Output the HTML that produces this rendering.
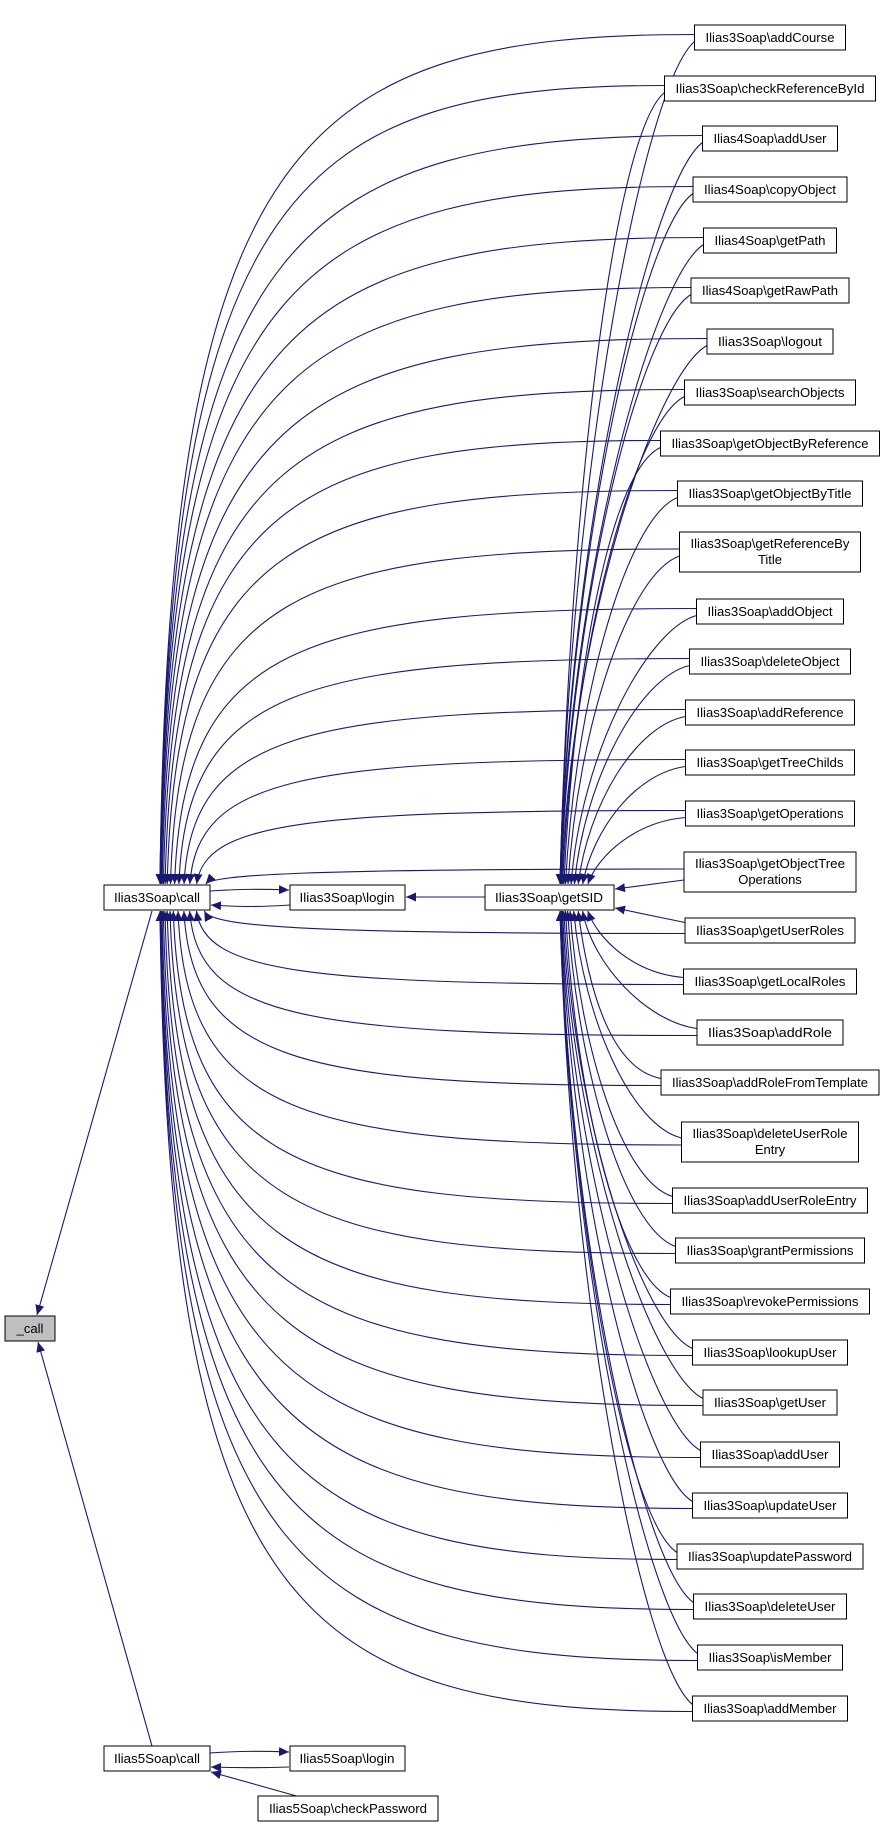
<!DOCTYPE html>
<html><head><meta charset="utf-8">
<style>
html,body{margin:0;padding:0;background:#fff;}
svg{display:block;}
text{font-family:"Liberation Sans",Arial,sans-serif;font-size:13px;fill:#000;}
</style></head>
<body>
<svg id="s" width="885" height="1828" viewBox="0 0 885 1828" xmlns="http://www.w3.org/2000/svg">
<defs>
<marker id="a" markerUnits="userSpaceOnUse" markerWidth="11" markerHeight="9" refX="10" refY="4.5" orient="auto">
<path d="M0,0 L10,4.5 L0,9 z" fill="#191970"/>
</marker>
</defs>
<g id="edges" fill="none" stroke="#191970" stroke-width="1.1"></g>
<g id="fixed" fill="none" stroke="#191970" stroke-width="1.1">
<path d="M210,891 C240,889 260,889 289,890" marker-end="url(#a)"/>
<path d="M290,905 C260,907 240,907 211,905" marker-end="url(#a)"/>
<path d="M485,897 L406,897" marker-end="url(#a)"/>
<path d="M152,911 L37,1315" marker-end="url(#a)"/>
<path d="M152,1746 L38,1342" marker-end="url(#a)"/>
<path d="M209,1753 C240,1751 260,1751 289,1752" marker-end="url(#a)"/>
<path d="M289,1767 C260,1768 240,1768 211,1767" marker-end="url(#a)"/>
<path d="M300,1797 L211,1772" marker-end="url(#a)"/>
</g>
<g stroke="#000" stroke-width="1" fill="#fff">
<rect x="104" y="885" width="106" height="25"/>
<rect x="290" y="885" width="115" height="25"/>
<rect x="485" y="885" width="129" height="25"/>
<rect x="5" y="1316" width="50" height="25" fill="#bfbfbf"/>
<rect x="104" y="1746" width="106" height="25"/>
<rect x="290" y="1746" width="115" height="25"/>
<rect x="258" y="1796" width="180" height="25"/>
</g>
<g text-anchor="middle">
<text x="157" y="902" textLength="86" lengthAdjust="spacingAndGlyphs">Ilias3Soap\call</text>
<text x="347" y="902" textLength="95" lengthAdjust="spacingAndGlyphs">Ilias3Soap\login</text>
<text x="549" y="902" textLength="108" lengthAdjust="spacingAndGlyphs">Ilias3Soap\getSID</text>
<text x="30" y="1333">_call</text>
<text x="157" y="1763" textLength="86" lengthAdjust="spacingAndGlyphs">Ilias5Soap\call</text>
<text x="347" y="1763" textLength="95" lengthAdjust="spacingAndGlyphs">Ilias5Soap\login</text>
<text x="348" y="1813" textLength="158" lengthAdjust="spacingAndGlyphs">Ilias5Soap\checkPassword</text>
</g>
<g id="nodes" stroke="#000" stroke-width="1" fill="#fff">
<rect x="694.5" y="25" width="151" height="25"/>
<rect x="664.5" y="76" width="211" height="25"/>
<rect x="702.5" y="126" width="135" height="25"/>
<rect x="693" y="177" width="154" height="25"/>
<rect x="703.5" y="228" width="133" height="25"/>
<rect x="691" y="278" width="158" height="25"/>
<rect x="707" y="329" width="126" height="25"/>
<rect x="684.5" y="380" width="171" height="25"/>
<rect x="660.5" y="431" width="219" height="25"/>
<rect x="677.5" y="481" width="185" height="25"/>
<rect x="679.5" y="532" width="181" height="40"/>
<rect x="696.5" y="599" width="147" height="25"/>
<rect x="689.5" y="649" width="161" height="25"/>
<rect x="685.5" y="700" width="169" height="25"/>
<rect x="685.5" y="750" width="169" height="25"/>
<rect x="685.5" y="801" width="169" height="25"/>
<rect x="684" y="852" width="172" height="40"/>
<rect x="685" y="918" width="170" height="25"/>
<rect x="683.5" y="969" width="173" height="25"/>
<rect x="697" y="1020" width="146" height="25"/>
<rect x="661" y="1070" width="218" height="25"/>
<rect x="681.5" y="1122" width="177" height="40"/>
<rect x="672.5" y="1188" width="195" height="25"/>
<rect x="675.5" y="1238" width="189" height="25"/>
<rect x="670.5" y="1289" width="199" height="25"/>
<rect x="692.5" y="1340" width="155" height="25"/>
<rect x="703" y="1390" width="134" height="25"/>
<rect x="700.5" y="1442" width="139" height="25"/>
<rect x="692.5" y="1493" width="155" height="25"/>
<rect x="677" y="1544" width="186" height="25"/>
<rect x="693.5" y="1594" width="153" height="25"/>
<rect x="697.5" y="1645" width="145" height="25"/>
<rect x="692.5" y="1696" width="155" height="25"/>
</g>
<g text-anchor="middle">
<text x="770" y="42" textLength="129" lengthAdjust="spacingAndGlyphs">Ilias3Soap\addCourse</text>
<text x="770" y="93" textLength="189" lengthAdjust="spacingAndGlyphs">Ilias3Soap\checkReferenceById</text>
<text x="770" y="143" textLength="113" lengthAdjust="spacingAndGlyphs">Ilias4Soap\addUser</text>
<text x="770" y="194" textLength="132" lengthAdjust="spacingAndGlyphs">Ilias4Soap\copyObject</text>
<text x="770" y="245" textLength="111" lengthAdjust="spacingAndGlyphs">Ilias4Soap\getPath</text>
<text x="770" y="295" textLength="136" lengthAdjust="spacingAndGlyphs">Ilias4Soap\getRawPath</text>
<text x="770" y="346" textLength="104" lengthAdjust="spacingAndGlyphs">Ilias3Soap\logout</text>
<text x="770" y="397" textLength="149" lengthAdjust="spacingAndGlyphs">Ilias3Soap\searchObjects</text>
<text x="770" y="448" textLength="197" lengthAdjust="spacingAndGlyphs">Ilias3Soap\getObjectByReference</text>
<text x="770" y="498" textLength="163" lengthAdjust="spacingAndGlyphs">Ilias3Soap\getObjectByTitle</text>
<text x="770" y="548" textLength="159" lengthAdjust="spacingAndGlyphs">Ilias3Soap\getReferenceBy</text>
<text x="770" y="564">Title</text>
<text x="770" y="616" textLength="125" lengthAdjust="spacingAndGlyphs">Ilias3Soap\addObject</text>
<text x="770" y="666" textLength="139" lengthAdjust="spacingAndGlyphs">Ilias3Soap\deleteObject</text>
<text x="770" y="717" textLength="147" lengthAdjust="spacingAndGlyphs">Ilias3Soap\addReference</text>
<text x="770" y="767" textLength="147" lengthAdjust="spacingAndGlyphs">Ilias3Soap\getTreeChilds</text>
<text x="770" y="818" textLength="147" lengthAdjust="spacingAndGlyphs">Ilias3Soap\getOperations</text>
<text x="770" y="868" textLength="150" lengthAdjust="spacingAndGlyphs">Ilias3Soap\getObjectTree</text>
<text x="770" y="884">Operations</text>
<text x="770" y="935" textLength="148" lengthAdjust="spacingAndGlyphs">Ilias3Soap\getUserRoles</text>
<text x="770" y="986" textLength="151" lengthAdjust="spacingAndGlyphs">Ilias3Soap\getLocalRoles</text>
<text x="770" y="1037" textLength="124" lengthAdjust="spacingAndGlyphs">Ilias3Soap\addRole</text>
<text x="770" y="1087" textLength="196" lengthAdjust="spacingAndGlyphs">Ilias3Soap\addRoleFromTemplate</text>
<text x="770" y="1138" textLength="155" lengthAdjust="spacingAndGlyphs">Ilias3Soap\deleteUserRole</text>
<text x="770" y="1154">Entry</text>
<text x="770" y="1205" textLength="173" lengthAdjust="spacingAndGlyphs">Ilias3Soap\addUserRoleEntry</text>
<text x="770" y="1255" textLength="167" lengthAdjust="spacingAndGlyphs">Ilias3Soap\grantPermissions</text>
<text x="770" y="1306" textLength="177" lengthAdjust="spacingAndGlyphs">Ilias3Soap\revokePermissions</text>
<text x="770" y="1357" textLength="133" lengthAdjust="spacingAndGlyphs">Ilias3Soap\lookupUser</text>
<text x="770" y="1407" textLength="112" lengthAdjust="spacingAndGlyphs">Ilias3Soap\getUser</text>
<text x="770" y="1459" textLength="117" lengthAdjust="spacingAndGlyphs">Ilias3Soap\addUser</text>
<text x="770" y="1510" textLength="133" lengthAdjust="spacingAndGlyphs">Ilias3Soap\updateUser</text>
<text x="770" y="1561" textLength="164" lengthAdjust="spacingAndGlyphs">Ilias3Soap\updatePassword</text>
<text x="770" y="1611" textLength="131" lengthAdjust="spacingAndGlyphs">Ilias3Soap\deleteUser</text>
<text x="770" y="1662" textLength="123" lengthAdjust="spacingAndGlyphs">Ilias3Soap\isMember</text>
<text x="770" y="1713" textLength="133" lengthAdjust="spacingAndGlyphs">Ilias3Soap\addMember</text>
</g>
</svg>
<script>
(function(){
var N=[[25,151,25],[76,211,25],[126,135,25],[177,154,25],[228,133,25],[278,158,25],[329,126,25],[380,171,25],[431,219,25],[481,185,25],[532,181,40],[599,147,25],[649,161,25],[700,169,25],[750,169,25],[801,169,25],[852,172,40],[918,170,25],[969,173,25],[1020,146,25],[1070,218,25],[1122,177,40],[1188,195,25],[1238,189,25],[1289,199,25],[1340,155,25],[1390,134,25],[1442,139,25],[1493,155,25],[1544,186,25],[1594,153,25],[1645,145,25],[1696,155,25]];
var g=document.getElementById('edges'),ns='http://www.w3.org/2000/svg';
function P(d){var p=document.createElementNS(ns,'path');p.setAttribute('d',d);p.setAttribute('marker-end','url(#a)');g.appendChild(p);}
function f(v){return v.toFixed(1);}
N.forEach(function(n){
 var top=n[0],w=n[1],h=n[2],L=770-w/2,cy=top+h/2;
 var up=cy<897, d=Math.abs(cy-897), k=Math.max(0,1-d/850);
 var cx=160+50*Math.pow(k,3), ty=up?884:911, s=up?1:-1;
 var y0=cy-3*s;
 P('M'+f(L)+','+f(y0)+' C300,'+f(y0)+' '+f(cx+8)+','+f(cy+s*0.12*d)+' '+f(cx)+','+ty);
 if(Math.abs(cy-897)<40){
  var yy=up?889:908; P('M'+f(L)+','+f(cy+(up?8:-8))+' L615,'+yy);
 } else {
  var sx=560+38*Math.pow(k,3), y1=cy+4*s;
  P('M'+f(L)+','+f(y1)+' C'+f(L-50)+','+f(y1+s*0.05*d)+' '+f(sx+10)+','+f(cy+s*0.5*d)+' '+f(sx)+','+ty);
 }
});
})();
</script>
</body></html>
